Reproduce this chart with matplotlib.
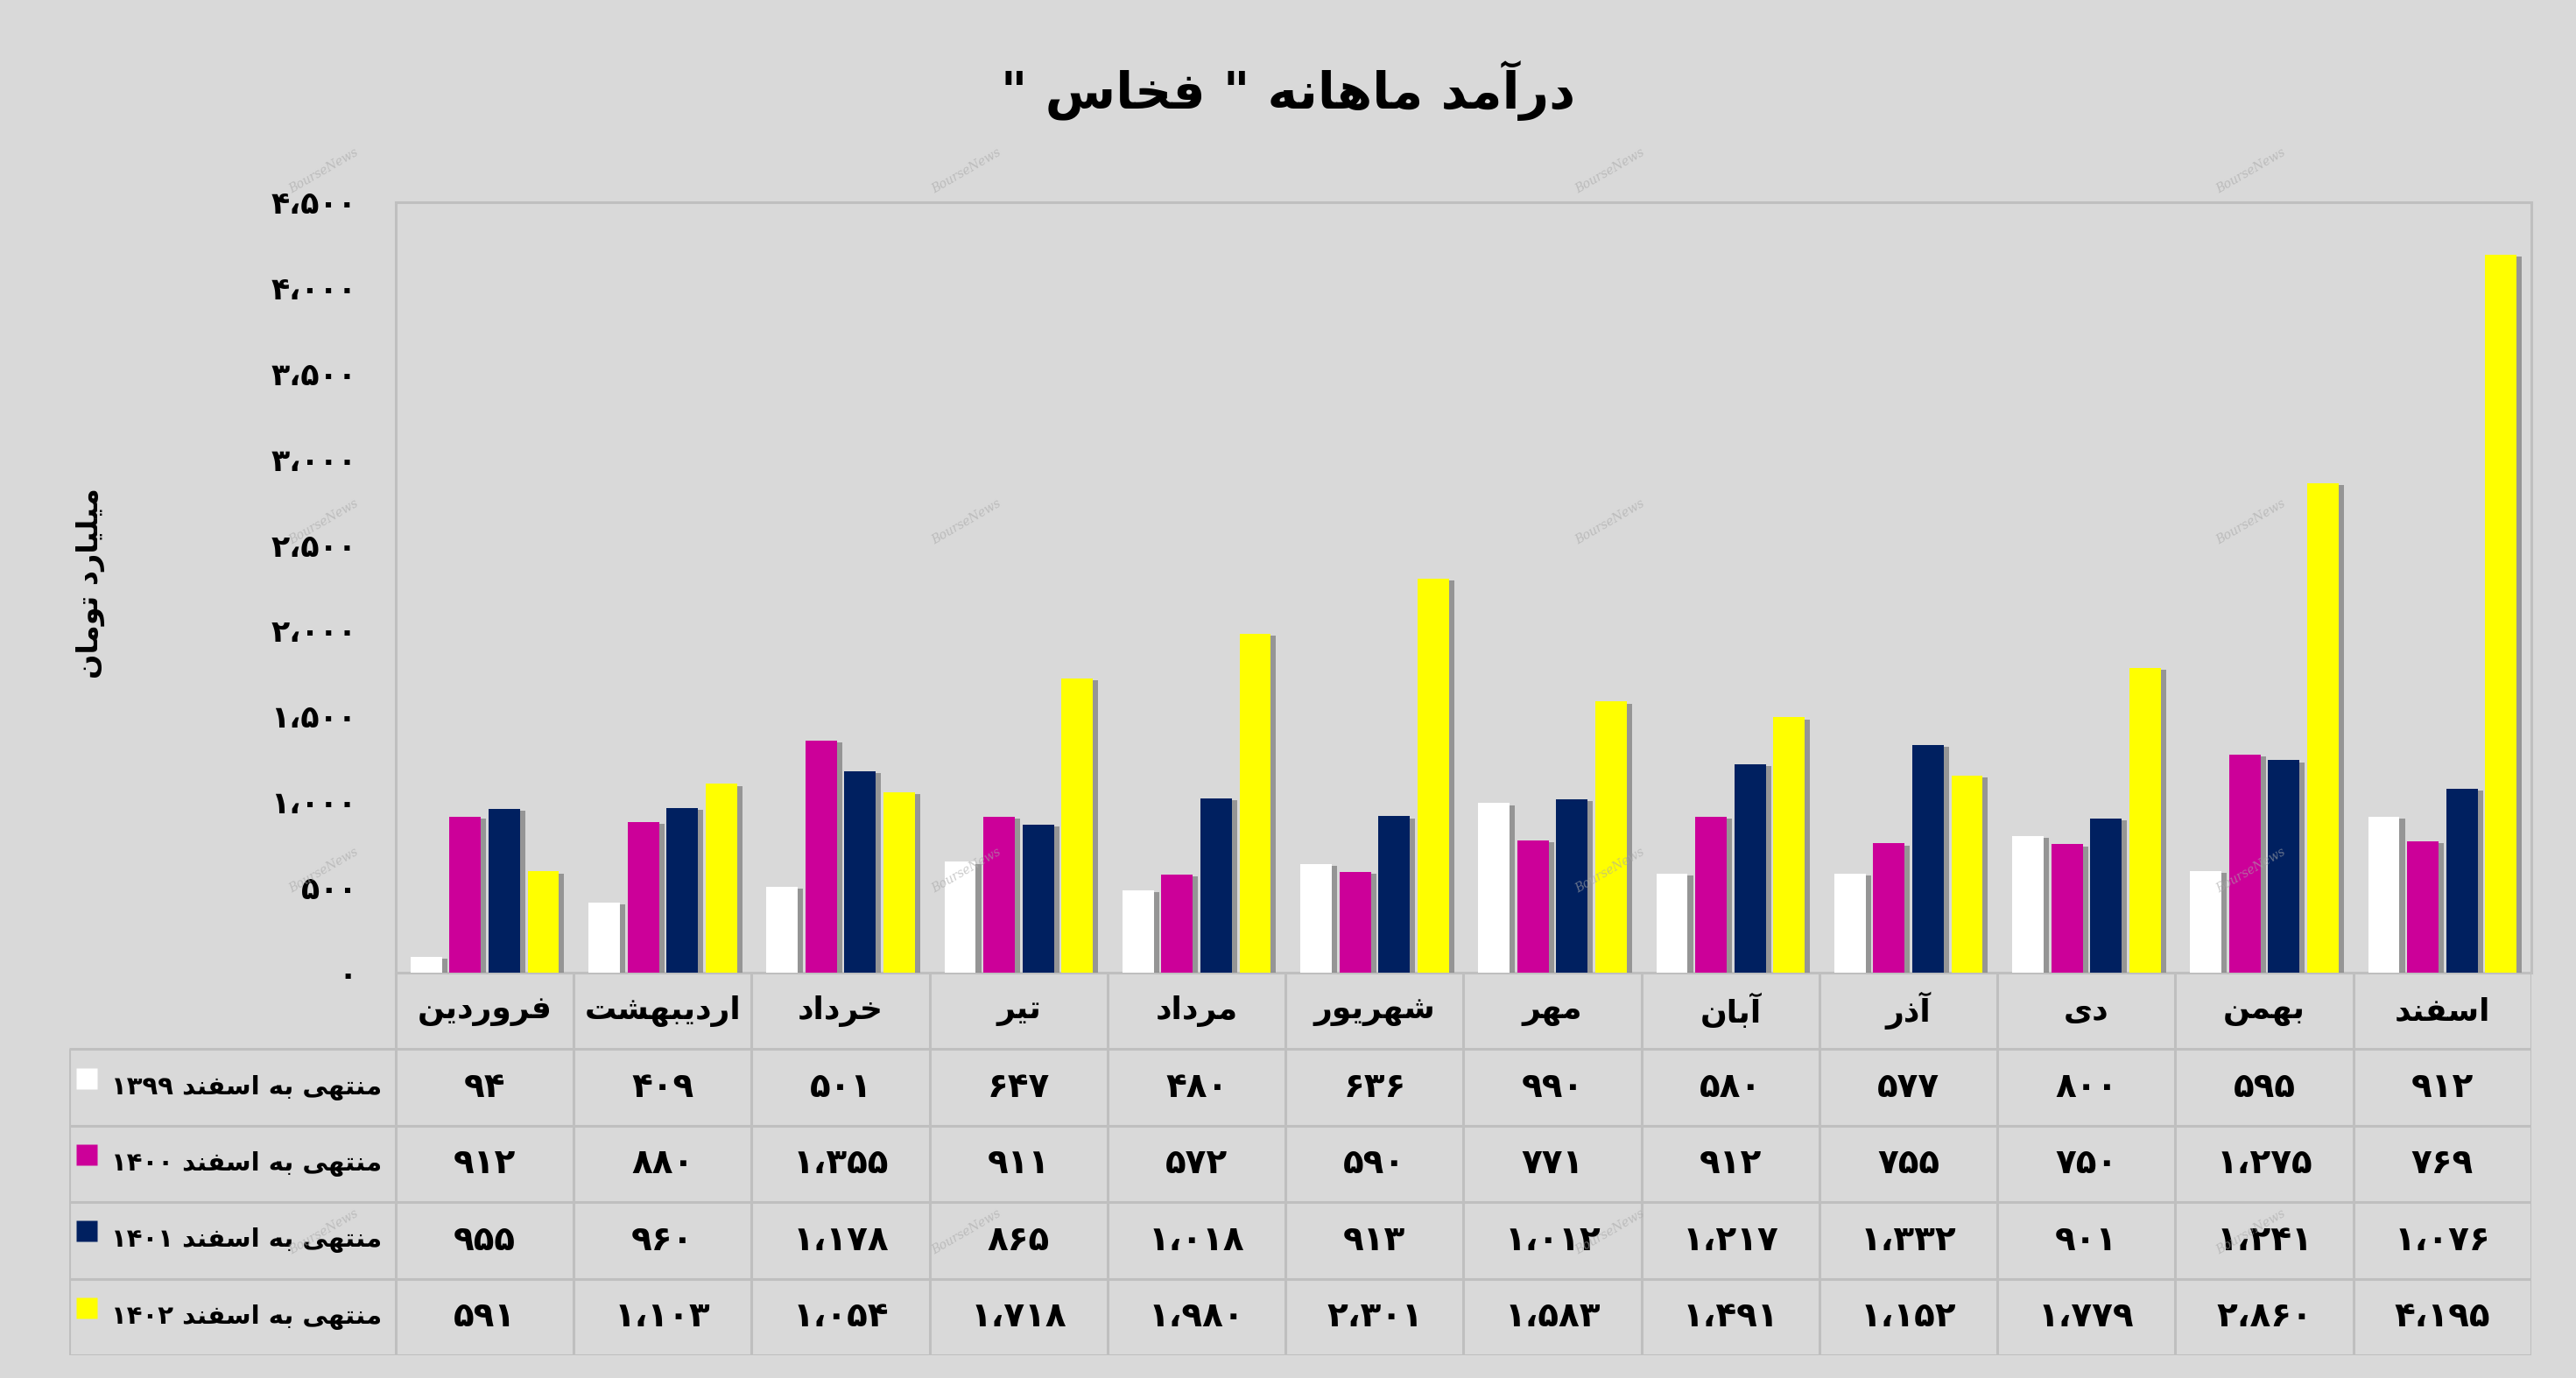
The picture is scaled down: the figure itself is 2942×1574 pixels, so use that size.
import numpy as np
import matplotlib
matplotlib.use('Agg')
import matplotlib.pyplot as plt
import matplotlib.patheffects as pe

#data
months = ['فروردین', 'اردیبهشت', 'خرداد', 'تیر', 'مرداد', 'شهریور',
          'مهر', 'آبان', 'آذر', 'دی', 'بهمن', 'اسفند']
series_names = ['منتهی به اسفند ۱۳۹۹', 'منتهی به اسفند ۱۴۰۰',
                'منتهی به اسفند ۱۴۰۱', 'منتهی به اسفند ۱۴۰۲']
rev_1399 = [94, 409, 501, 647, 480, 636, 990, 580, 577, 800, 595, 912]
rev_1400 = [912, 880, 1355, 911, 572, 590, 771, 912, 755, 750, 1275, 769]
rev_1401 = [955, 960, 1178, 865, 1018, 913, 1012, 1217, 1332, 901, 1241, 1076]
rev_1402 = [591, 1103, 1054, 1718, 1980, 2301, 1583, 1491, 1152, 1779, 2860, 4195]
series = [rev_1399, rev_1400, rev_1401, rev_1402]
colors = ['#ffffff', '#cc0099', '#002060', '#ffff00']
yticks = [0, 500, 1000, 1500, 2000, 2500, 3000, 3500, 4000, 4500]
title = 'درآمد ماهانه " فخاس "'
ylabel = 'میلیارد تومان'

#arabic shaping by hand (matplotlib has no bidi / joining)
FORMS = {
    'ا': ('\uFE8D', '\uFE8E', None, None),
    'آ': ('\uFE81', '\uFE82', None, None),
    'ب': ('\uFE8F', '\uFE90', '\uFE91', '\uFE92'),
    'ت': ('\uFE95', '\uFE96', '\uFE97', '\uFE98'),
    'خ': ('\uFEA5', '\uFEA6', '\uFEA7', '\uFEA8'),
    'د': ('\uFEA9', '\uFEAA', None, None),
    'ذ': ('\uFEAB', '\uFEAC', None, None),
    'ر': ('\uFEAD', '\uFEAE', None, None),
    'س': ('\uFEB1', '\uFEB2', '\uFEB3', '\uFEB4'),
    'ش': ('\uFEB5', '\uFEB6', '\uFEB7', '\uFEB8'),
    'ف': ('\uFED1', '\uFED2', '\uFED3', '\uFED4'),
    'ل': ('\uFEDD', '\uFEDE', '\uFEDF', '\uFEE0'),
    'م': ('\uFEE1', '\uFEE2', '\uFEE3', '\uFEE4'),
    'ن': ('\uFEE5', '\uFEE6', '\uFEE7', '\uFEE8'),
    'ه': ('\uFEE9', '\uFEEA', '\uFEEB', '\uFEEC'),
    'و': ('\uFEED', '\uFEEE', None, None),
    'ی': ('\uFEEF', '\uFEF0', '\uFEF3', '\uFEF4'),
}
FA_DIGITS = '۰۱۲۳۴۵۶۷۸۹'


def shape(word):
    out = []
    for i, ch in enumerate(word):
        if ch not in FORMS:
            out.append(ch)
            continue
        prev = word[i - 1] if i > 0 else ''
        nxt = word[i + 1] if i + 1 < len(word) else ''
        join_prev = prev in FORMS and FORMS[prev][2] is not None
        join_next = FORMS[ch][2] is not None and nxt in FORMS
        iso, fin, ini, med = FORMS[ch]
        if join_prev and join_next:
            out.append(med)
        elif join_prev:
            out.append(fin)
        elif join_next:
            out.append(ini)
        else:
            out.append(iso)
    return ''.join(reversed(out))


def fa(text):
    parts = []
    for p in text.split(' '):
        if p and all(c in FA_DIGITS + '،' for c in p):
            parts.append(p)
        else:
            parts.append(shape(p))
    return ' '.join(reversed(parts))


def fa_num(n):
    s = f'{n:,}'
    return ''.join(FA_DIGITS[int(c)] if c.isdigit() else '،' for c in s)


plt.rcParams['font.family'] = ['DejaVu Sans']
plt.rcParams['font.weight'] = 'bold'

bg = '#d9d9d9'
grid_c = '#bfbfbf'
W, H = 2942, 1574
fig = plt.figure(figsize=(W / 200, H / 200), dpi=200, facecolor=bg)

#main bar chart
ax = fig.add_axes([452 / W, 1 - 1111 / H, (2891 - 452) / W, (1111 - 231) / H])
ax.set_facecolor(bg)
x = np.arange(len(months))
step, width = 0.219, 0.176
shadow = [pe.SimplePatchShadow(offset=(2.2, -0.8), shadow_rgbFace='#7f7f7f', alpha=0.75), pe.Normal()]
for k, (vals, c) in enumerate(zip(series, colors)):
    bars = ax.bar(x + (k - 1.5) * step, vals, width=width, color=c, zorder=3)
    for b in bars:
        b.set_path_effects(shadow)
ax.set_xlim(-0.5, 11.5)
ax.set_ylim(0, 4500)
ax.set_xticks([])
ax.set_yticks(yticks)
ax.set_yticklabels([fa_num(v) for v in yticks], fontsize=12.5, fontweight='bold')
ax.tick_params(axis='y', length=0, pad=16)
for s in ax.spines.values():
    s.set_color(grid_c)
    s.set_linewidth(1.1)

#data table under the chart
tax = fig.add_axes([79 / W, 1 - 1548 / H, (2891 - 79) / W, (1548 - 1111) / H])
tax.set_xlim(-2.335, 11.5)
tax.set_ylim(0, 5)
tax.axis('off')
lw = 1.1
for yy in range(5):
    tax.plot([-2.335, 11.5], [yy, yy], color=grid_c, lw=lw, solid_capstyle='butt')
for i in range(13):
    tax.plot([-0.5 + i, -0.5 + i], [0, 5], color=grid_c, lw=lw, solid_capstyle='butt')
tax.plot([-2.335, -2.335], [0, 4], color=grid_c, lw=lw, solid_capstyle='butt')

for i, m in enumerate(months):
    tax.text(i, 4.5, fa(m), ha='center', va='center', fontsize=13, fontweight='bold')
for k, vals in enumerate(series):
    yy = 3.5 - k
    for i, v in enumerate(vals):
        tax.text(i, yy, fa_num(v), ha='center', va='center', fontsize=14, fontweight='bold')
    tax.plot([-2.235], [yy + 0.12], marker='s', markersize=8.5, color=colors[k], mec='none')
    tax.text(-0.58, yy, fa(series_names[k]), ha='right', va='center', fontsize=10.5, fontweight='bold')

#titles
fig.text(0.5, 1 - 103 / H, fa(title), ha='center', va='center', fontsize=21, fontweight='bold')
fig.text(103 / W, 1 - 666 / H, fa(ylabel), ha='center', va='center', rotation=90,
         fontsize=12, fontweight='bold')

#faint watermark
wm_x = [197, 588, 980, 1370]
wm_y = [104, 318, 530, 750]
for wx in wm_x:
    for wy in wm_y:
        fig.text(wx / 1568, 1 - wy / 839, 'BourseNews', ha='center', va='center', rotation=30,
                 fontsize=5, family='DejaVu Serif', style='italic', fontweight='normal',
                 color='#a8a8a8', alpha=0.6)

fig.savefig('out.png', dpi=200, facecolor=bg)
